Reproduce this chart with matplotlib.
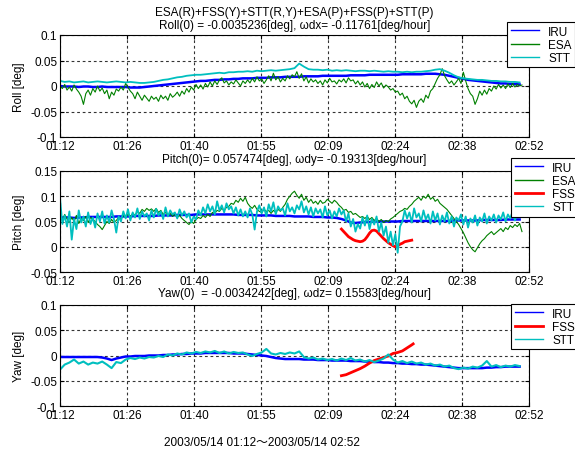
import numpy as np
import matplotlib
matplotlib.use("Agg")
import matplotlib.pyplot as plt
from matplotlib.ticker import FixedLocator, FixedFormatter

plt.rcParams['font.family'] = ['Liberation Sans Narrow', 'Liberation Sans', 'DejaVu Sans', 'Noto Sans CJK JP']

# ---------------- data (values in 1e-3 deg, time in minutes after 01:12) -------------
x_tick_labels = ["01:12", "01:26", "01:40", "01:55", "02:09", "02:24", "02:38", "02:52"]

# 1-minute sampled series (t = 0..98 min)
roll_iru = [0,-1,-1,-1,-2,-1,-1,-2,-2,-1,-2,-2,-2,-2,
            -2,-3,-3,-3,-2,-1,
            0,1,2,3,4,5,6,7,8,9,
            10,10,11,12,12,13,13,14,14,15,
            15,15,16,16,16,17,17,17,18,18,
            18,18,19,19,19,19,20,20,20,20,
            20,20,21,21,21,21,22,22,22,22,
            22,22,22,23,23,23,23,23,24,24,
            24,23,22,20,18,16,14,12,11,10,
            9,8,7,6,5,5,4,4,3]
roll_stt = [10,8,9,7,8,9,7,8,9,8,
            7,8,9,8,7,8,7,6,6,7,
            8,10,12,13,15,17,18,20,21,22,
            22,23,24,25,26,25,27,27,28,28,
            29,28,30,29,30,31,30,31,32,33,
            35,44,38,33,32,
            32,31,32,30,31,30,31,30,29,30,
            30,29,30,29,28,29,28,28,27,28,
            27,28,28,29,30,32,33,30,26,21,
            17,15,14,13,12,12,11,10,10,9,9,8,8,7]
# 0.5-minute sampled series (t = 0..98.5 min)
roll_esa = [0,-5,3,-8,-2,-10,2,-6,-12,-20,
            -36,-15,-8,-18,-5,-12,0,-10,-4,-15,
            -8,-25,-12,-18,-6,-10,-2,-8,5,-3,
            -10,-15,-25,-12,-20,-28,-18,-24,-30,-20,
            -26,-22,-30,-18,-25,-20,-28,-15,-22,-18,
            -12,-20,-10,-16,-5,-12,-2,-8,3,-5,
            2,-6,5,-2,8,0,10,3,12,16,
            6,10,2,8,4,12,6,0,10,5,
            12,6,15,8,18,10,14,5,12,20,
            10,25,12,18,8,15,10,20,14,22,
            18,28,15,24,10,18,6,14,8,12,
            5,10,2,12,6,15,8,10,4,12,
            8,14,6,16,10,12,4,10,2,8,
            -2,5,-5,3,-3,8,0,6,-4,2,
            -2,-8,-5,-12,-10,-18,-14,-25,-20,-30,
            -35,-28,-42,-30,-25,-32,-18,-24,-10,-5,
            5,15,22,34,20,12,5,10,2,8,
            15,5,27,10,-5,-15,-20,-36,-25,-10,
            -18,-8,-16,-5,-10,0,-6,3,-4,2,
            -5,4,-3,5,-2,3,0,2]

pitch_iru = [58,58,58,57,58,58,59,59,59,59,
             59,59,60,60,60,60,61,61,61,61,
             61,62,62,62,62,63,63,63,63,64,
             64,64,64,64,64,64,64,64,63,63,
             63,63,62,62,62,62,61,61,61,61,
             60,60,60,60,59,59,59,58,58,57,
             55,52,48,47,48,49,49,50,50,50,
             50,50,50,51,51,51,51,51,51,51,
             51,51,51,51,52,52,52,52,52,52,
             53,53,53,53,53,54,54,54,54]
pitch_esa = [60,52,64,55,48,58,50,62,46,56,
             52,60,48,58,54,50,44,40,34,42,
             50,46,54,48,52,58,55,62,58,64,
             60,66,62,70,66,74,70,76,72,75,
             70,76,68,72,64,68,62,66,60,64,
             58,62,56,52,48,44,50,46,54,58,
             56,62,58,64,60,68,66,72,70,76,
             72,78,80,86,84,92,88,96,90,98,
             86,80,76,82,74,70,68,74,70,72,
             66,72,68,74,70,78,84,94,100,106,
             110,102,96,104,92,98,88,94,86,90,
             84,92,86,88,94,90,86,92,88,82,
             78,72,74,68,70,64,66,62,58,60,
             56,60,54,58,52,56,50,54,48,52,
             50,55,58,62,66,70,72,76,74,80,
             84,90,94,98,92,100,96,104,94,98,
             90,94,86,82,78,74,68,62,56,50,
             44,36,28,18,8,0,-6,-10,-2,6,
             12,16,22,26,30,24,28,32,36,30,
             38,34,42,38,44,40,46,30]
pitch_stt = [97,45,62,40,70,14,55,35,72,48,
             60,40,68,45,58,38,66,50,70,46,
             62,48,72,55,28,60,50,70,56,74,
             52,68,58,76,55,70,60,66,52,72,
             58,75,62,70,55,78,60,72,64,68,
             56,74,62,70,58,66,48,60,54,72,
             62,78,66,84,70,80,64,90,72,82,
             68,86,74,80,66,78,62,74,60,70,
             58,76,64,34,70,82,66,78,60,84,
             70,88,64,80,72,76,62,86,70,78,
             66,82,74,90,68,80,64,78,60,76,
             66,74,58,80,62,72,56,70,60,76,
             64,72,50,66,40,55,30,45,36,58,
             42,62,35,55,44,60,30,48,22,40,
             8,30,3,25,-12,40,50,72,56,68,
             48,76,58,66,50,72,54,64,46,70,
             52,66,44,62,50,68,46,60,40,58,
             52,64,44,60,38,56,48,62,42,58,
             50,66,46,60,52,64,48,62,54,68,
             50,64,56,70,52,66,58,62]
pitch_fss_t = [60,60.5,61,61.5,62,62.5,63,63.5,64,64.5,65,65.5,66,66.5,67,67.5,
               68,68.5,69,69.5,70,70.5,71,71.5,72,72.5,73,73.5,74,74.5,75]
pitch_fss = [35,30,25,20,17,14,12,11,10,11,14,20,27,32,33,31,
             26,21,16,12,8,5,2,0,2,5,7,10,11,12,13]

yaw_iru = [-3,-3,-3,-3,-3,-3,-3,-3,-3,-4,
           -6,-9,-6,-4,
           -2,-2,-1,-1,-1,0,
           0,0,1,1,2,2,3,3,4,4,
           4,5,5,5,5,5,5,4,4,4,
           3,2,1,0,-1,-3,-5,-6,-7,-7,
           -7,-7,-8,-8,-8,-9,-9,-9,-10,-10,
           -10,-10,-11,-11,-11,-12,-12,-13,-13,-14,
           -14,-15,-15,-16,-16,-17,-17,-18,-18,-19,
           -20,-21,-22,-23,-24,-25,-25,-25,-25,-25,
           -25,-24,-24,-23,-23,-22,-22,-22,-22]
yaw_stt = [-28,-18,-14,-8,-16,-12,-18,-14,-16,-12,
           -18,-25,-13,-15,
           -8,-5,-7,-4,-6,-3,
           -4,-1,-3,2,0,4,2,6,4,7,
           5,8,6,9,5,8,4,7,5,6,
           2,-1,3,6,13,4,2,5,3,6,
           4,8,-3,-6,-4,-8,-6,-9,-7,-10,
           -6,-9,-5,-10,-8,-12,-9,-13,-10,-6,
           2,-8,-14,-11,-15,-12,-16,-14,-18,-16,
           -20,-18,-22,-20,-25,-27,-24,-26,-22,-24,
           -20,-11,-22,-19,-23,-20,-22,-19,-21]
yaw_fss_t = [60,61,62,63,64,65,66,67,68,69,70,71,72,73,74,75,75.3]
yaw_fss = [-40,-38,-34,-30,-26,-21,-15,-10,-7,-4,-1,4,6,9,15,21,23]

titles = ["ESA(R)+FSS(Y)+STT(R,Y)+ESA(P)+FSS(P)+STT(P)\nRoll(0) = -0.0035236[deg], \u03c9dx= -0.11761[deg/hour]",
          "Pitch(0)= 0.057474[deg], \u03c9dy= -0.19313[deg/hour]",
          "Yaw(0)  = -0.0034242[deg], \u03c9dz= 0.15583[deg/hour]"]
ylabels = ["Roll [deg]", "Pitch [deg]", "Yaw [deg]"]
footer = "2003/05/14 01:12\uff5e2003/05/14 02:52"

# ---------------- plotting -------------
C_IRU, C_ESA, C_FSS, C_STT = "#0000ff", "#008000", "#ff0000", "#00bfbf"

def m(v):
    return np.asarray(v, dtype=float) / 1000.0

t1 = np.arange(len(roll_iru)) * 1.0
t05 = np.arange(len(roll_esa)) * 0.5

W, H = 575, 456
fig = plt.figure(figsize=(W / 100, H / 100), dpi=100)

def axes_px(left, top, right, bottom):
    return fig.add_axes([left / W, 1 - bottom / H, (right - left) / W, (bottom - top) / H])

ax_r = axes_px(60, 36, 529, 138)
ax_p = axes_px(60, 172, 529, 273)
ax_y = axes_px(60, 306, 529, 407)

FS = 8.5

def style(ax, ylim, yticks, ylabs):
    ax.set_xlim(0, 100)
    ax.set_ylim(*ylim)
    ax.xaxis.set_major_locator(FixedLocator(np.linspace(0, 100, len(x_tick_labels))))
    ax.xaxis.set_major_formatter(FixedFormatter(x_tick_labels))
    ax.yaxis.set_major_locator(FixedLocator(yticks))
    ax.yaxis.set_major_formatter(FixedFormatter(ylabs))
    ax.tick_params(direction="in", length=3, labelsize=FS, pad=2, top=True, right=True)
    ax.grid(True, color="0.2", linestyle=(0, (2.5, 2.5)), linewidth=0.8)
    for s in ax.spines.values():
        s.set_linewidth(0.8)

# Roll
ax_r.plot(t1, m(roll_iru), color=C_IRU, lw=1.8, label="IRU")
ax_r.plot(t05, m(roll_esa), color=C_ESA, lw=0.8, label="ESA")
ax_r.plot(t1, m(roll_stt), color=C_STT, lw=1.3, label="STT")
style(ax_r, (-0.1, 0.1), [-0.1, -0.05, 0, 0.05, 0.1], ["-0.1", "-0.05", "0", "0.05", "0.1"])

# Pitch
ax_p.plot(t1, m(pitch_iru), color=C_IRU, lw=1.8, label="IRU")
ax_p.plot(t05, m(pitch_esa), color=C_ESA, lw=0.8, label="ESA")
ax_p.plot(pitch_fss_t, m(pitch_fss), color=C_FSS, lw=2.0, label="FSS")
ax_p.plot(t05, m(pitch_stt), color=C_STT, lw=1.3, label="STT")
style(ax_p, (-0.05, 0.15), [-0.05, 0, 0.05, 0.1, 0.15], ["-0.05", "0", "0.05", "0.1", "0.15"])

# Yaw
ax_y.plot(t1, m(yaw_iru), color=C_IRU, lw=1.8, label="IRU")
ax_y.plot(yaw_fss_t, m(yaw_fss), color=C_FSS, lw=2.0, label="FSS")
ax_y.plot(t1, m(yaw_stt), color=C_STT, lw=1.5, label="STT")
style(ax_y, (-0.1, 0.1), [-0.1, -0.05, 0, 0.05, 0.1], ["-0.1", "-0.05", "0", "0.05", "0.1"])

for ax, title, pad in zip([ax_r, ax_p, ax_y], titles, [5, 6.5, 6.5]):
    ax.set_title(title, fontsize=FS, pad=pad, linespacing=1.15)

for ax, yl in zip([ax_r, ax_p, ax_y], ylabels):
    ax.set_ylabel(yl, fontsize=FS, labelpad=4)

legend_pos = [(507, 23), (511, 159), (511, 305)]
for ax, (lx, ly) in zip([ax_r, ax_p, ax_y], legend_pos):
    leg = ax.legend(loc="upper left", bbox_to_anchor=(lx / W, 1 - ly / H),
                    bbox_transform=fig.transFigure, fontsize=FS, frameon=True,
                    fancybox=False, framealpha=1, edgecolor="black",
                    handlelength=2.4, handletextpad=0.8, labelspacing=0.1,
                    borderpad=0.3, borderaxespad=0)
    leg.get_frame().set_linewidth(0.8)
    for h in leg.get_lines():
        h.set_linewidth(1.0 if h.get_color() != C_FSS else 2.0)

fig.text(262 / W, 1 - 443 / H, footer, ha="center", va="center", fontsize=FS)

fig.savefig("out.png", dpi=100)
